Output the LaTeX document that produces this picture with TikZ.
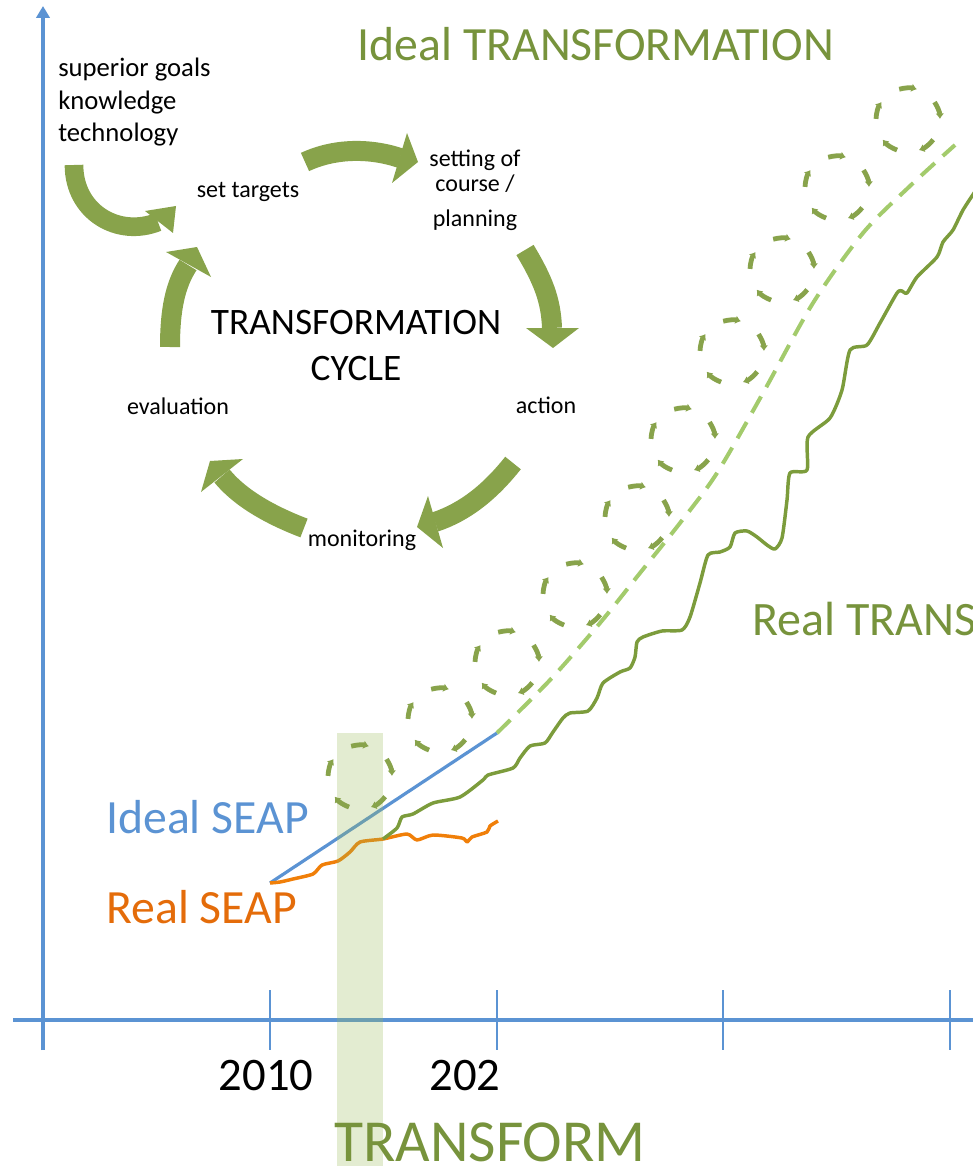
\documentclass[tikz,border=0pt]{standalone}
\usepackage{fontspec}
\setmainfont{Carlito}
\usetikzlibrary{positioning}
\usetikzlibrary{arrows.meta,calc}

\definecolor{axisblue}{HTML}{5B93D3}
\definecolor{seaporange}{HTML}{F07F09}
\definecolor{textorange}{HTML}{E46C0A}
\definecolor{cycgreen}{HTML}{88A34B}
\definecolor{textgreen}{HTML}{77933C}
\definecolor{realgreen}{HTML}{7C9C3C}
\definecolor{idealgreen}{HTML}{A3CB6C}
\definecolor{hlgreen}{HTML}{9BBB59}

\begin{document}
\begin{tikzpicture}[x = 0.75pt, y = -0.75pt,
    axis/.style = {draw = axisblue, line width = 2.3pt},
    tick/.style = {draw = axisblue, line width = 1.1pt},
    shaft/.style = {draw = cycgreen, line width = 15pt},
    head/.style = {fill = cycgreen},
    loopdash/.style = {draw = cycgreen, line width = 3.6pt, -{Latex[length = 4pt, width = 6.5pt]}},
    lbl/.style = {font = \fontsize{18}{22}\selectfont, inner sep = 0pt, anchor = base},
    big/.style = {font = \fontsize{35.8}{40}\selectfont, inner sep = 0pt},
    ]
    \useasboundingbox (0,0) rectangle (973,1166);

    % axes
    \coordinate (o) at (43,1050);
    \coordinate (ytop) at (43,6);
    \coordinate (xl) at (13,1020);
    \coordinate (xr) at (975,1020);
    \draw[axis, -{Triangle[length = 9pt, width = 10pt]}] (o) -- (ytop);
    \draw[axis] (xl) -- (xr);
    \foreach \x [count = \i] in {270,497,723,950} {
        \coordinate (t\i a) at (\x,990);
        \coordinate (t\i b) at (\x,1050);
        \draw[tick] (t\i a) -- (t\i b);
    }

    % SEAP lines
    \coordinate (seap0) at (270,883);
    \coordinate (seap1) at (497,733);
    \coordinate (split) at (383,839);
    \draw[draw = axisblue, line width = 2.4pt] (seap0) -- (seap1);
    \draw[draw = seaporange, line width = 2.6pt, line join = round]
        plot[smooth, tension = 0.4] coordinates {(270,883) (280,882) (293,879) (313,874) (322,865)
        (338,861) (350,852) (360,842) (383,839) (407,834) (417,840) (433,835) (462,838)
        (467,842) (472,837) (487,832) (490,826) (498,821)};

    % real transformation
    \draw[draw = realgreen, line width = 2.6pt, line join = round]
        plot[smooth, tension = 0.4] coordinates {(383,839) (397,828) (402,817) (413,814) (433,803)
        (460,797) (483,780) (488,775) (513,768) (520,758) (530,746) (545,743) (553,732)
        (563,718) (570,713) (588,711) (597,698) (603,683) (620,672) (630,668) (635,657)
        (637,642) (643,637) (662,631) (682,630) (690,617) (700,583) (708,555) (720,552)
        (730,547) (735,533) (747,531) (757,537) (767,545) (775,549) (782,538) (787,500)
        (790,473) (807,470) (808,437) (830,418) (842,390) (850,350) (867,345) (880,323)
        (897,293) (902,291) (907,293) (917,277) (937,257) (943,242) (953,230) (963,210)
        (976,190)};

    % ideal transformation
    \draw[draw = idealgreen, line width = 3pt, dash pattern = on 14pt off 8pt]
        plot[smooth, tension = 0.5] coordinates {(497,733) (550,680) (600,623) (640,573)
        (680,523) (717,473) (763,393) (813,303) (863,233) (910,186) (955,145)};

    % highlight band
    \fill[hlgreen, fill opacity = 0.28] (337,733) rectangle (383,1166);

    % loops
    \foreach \cx/\cy [count = \i] in {360/777, 440/720, 507/663, 575/595, 637/518,
                                      683/440, 732/352, 782/270, 837/188, 908/120} {
        \coordinate (L\i) at (\cx,\cy);
        \foreach \a in {90,18,-54,-126,-198} {
            \draw[loopdash] ($(L\i)+({-\a-16}:32)$) arc[start angle = {-\a-16}, end angle = {-\a+16}, radius = 32];
        }
    }

    % cycle arrows
    \coordinate (c1a) at (74,165);  \coordinate (c1b) at (158,222);
    \coordinate (c2a) at (305,162); \coordinate (c2b) at (400,158);
    \coordinate (c3a) at (525,250); \coordinate (c3b) at (552,328);
    \coordinate (c4a) at (513,463); \coordinate (c4b) at (435,522);
    \coordinate (c5a) at (304,528); \coordinate (c5b) at (222,476);
    \coordinate (c6a) at (170,347); \coordinate (c6b) at (188,265);
    \draw[shaft, line width = 14pt] (c1a) .. controls (74,212) and (118,238) .. (c1b);
    \fill[head] (145,211) -- (176,206) -- (173,233) -- cycle;
    \draw[shaft] (c2a) .. controls (335,148) and (370,148) .. (c2b);
    \fill[head] (407,133) -- (418,162) -- (392,183) -- cycle;
    \draw[shaft] (c3a) .. controls (543,280) and (551,300) .. (c3b);
    \fill[head] (526,328) -- (553,348) -- (579,328) -- cycle;
    \draw[shaft] (c4a) .. controls (490,492) and (465,512) .. (c4b);
    \fill[head] (428,496) -- (417,527) -- (443,548) -- cycle;
    \draw[shaft] (c5a) .. controls (270,515) and (240,498) .. (c5b);
    \fill[head] (201,492) -- (210,461) -- (243,459) -- cycle;
    \draw[shaft] (c6a) .. controls (170,310) and (175,285) .. (c6b);
    \fill[head] (166,252) -- (197,247) -- (211,277) -- cycle;

    % cycle labels
    \node[lbl, font = \fontsize{20}{24.4}\selectfont, anchor = base west, align = left] (goals) at (58,142) {superior goals\\knowledge\\technology};
    \node[lbl] (targets) at (248,198) {set targets};
    \node[lbl] (setting) at (475,167) {setting of};
    \node[lbl] (course) at (475,192) {course /};
    \node[lbl] (planning) at (475,227) {planning};
    \node[lbl] (act) at (546,413) {action};
    \node[lbl] (mon) at (362,546) {monitoring};
    \node[lbl] (eval) at (178,414) {evaluation};
    \node[lbl, font = \fontsize{28}{34.5}\selectfont] (cyc1) at (356,334) {TRANSFORMATION};
    \node[lbl, font = \fontsize{28}{34.5}\selectfont] (cyc2) at (356,380) {CYCLE};

    % chart labels
    \node[big, text = textgreen, anchor = base] (idealT) at (596,61) {Ideal TRANSFORMATION};
    \node[big, text = textgreen, anchor = base west, font = \fontsize{36}{40}\selectfont] (realT) at (752,635) {Real TRANS};
    \node[big, text = axisblue, anchor = base west] (idealS) at (106,833) {Ideal SEAP};
    \node[big, text = textorange, anchor = base west] (realS) at (106,923) {Real SEAP};
    \node[big, anchor = base, font = \fontsize{35}{40}\selectfont] (y2010) at (266,1090) {2010};
    \node[big, anchor = base, font = \fontsize{35}{40}\selectfont] (y202) at (465,1090) {202};
    \node[big, text = textgreen, anchor = base, font = \fontsize{44.7}{50}\selectfont] (transf) at (490,1161) {TRANSFORM};
\end{tikzpicture}
\end{document}
